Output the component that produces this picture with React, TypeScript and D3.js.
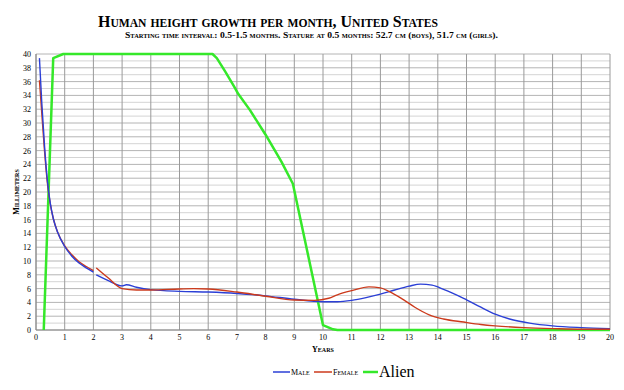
import * as d3 from 'd3';

type Pt = [number, number];

// years -> millimeters per month
const maleInfant: Pt[] = [
  [0.12, 39.4], [0.2, 33], [0.3, 26.5], [0.4, 21.5], [0.5, 18.3], [0.6, 16.2],
  [0.75, 14.2], [1.0, 12.1], [1.25, 10.7], [1.5, 9.7], [1.75, 9.0], [2.0, 8.4],
];
const femaleInfant: Pt[] = [
  [0.12, 36.2], [0.2, 31.5], [0.3, 25.8], [0.4, 21.2], [0.5, 18.2], [0.6, 16.2],
  [0.75, 14.2], [1.0, 12.2], [1.25, 10.9], [1.5, 9.9], [1.75, 9.2], [2.0, 8.6],
];
const maleChild: Pt[] = [
  [2.1, 8.0], [2.5, 7.2], [3.0, 6.4], [3.15, 6.55], [3.5, 6.2], [4.0, 5.85],
  [5.0, 5.6], [6.0, 5.5], [7.0, 5.3], [8.0, 4.95], [9.0, 4.45], [10.0, 4.1],
  [10.5, 4.1], [11.0, 4.3], [11.5, 4.7], [12.0, 5.2], [12.5, 5.8], [13.0, 6.35],
  [13.4, 6.65], [13.8, 6.5], [14.2, 5.9], [14.9, 4.6], [15.5, 3.3], [16.0, 2.3],
  [16.5, 1.6], [17.2, 1.0], [18.0, 0.6], [19.0, 0.35], [20.0, 0.2],
];
const femaleChild: Pt[] = [
  [2.1, 9.0], [2.5, 7.6], [3.0, 6.0], [3.5, 5.8], [4.0, 5.8], [5.0, 5.95],
  [5.5, 6.0], [6.0, 5.95], [7.0, 5.5], [8.0, 4.9], [9.0, 4.35], [9.7, 4.3],
  [10.2, 4.6], [10.5, 5.1], [11.0, 5.7], [11.6, 6.25], [12.0, 6.1], [12.3, 5.6],
  [12.8, 4.4], [13.2, 3.3], [13.7, 2.2], [14.2, 1.6], [14.9, 1.15], [15.5, 0.8],
  [16.0, 0.6], [17.0, 0.35], [18.0, 0.2], [19.0, 0.1], [20.0, 0.1],
];
const alien: Pt[] = [
  [0.27, 0], [0.6, 39.4], [0.95, 40], [6.15, 40], [6.3, 39.4], [6.6, 37.4],
  [6.9, 35.3], [7.05, 34.2], [7.45, 31.9], [8.0, 28.3], [8.55, 24.4],
  [8.95, 21.2], [10.0, 0.7], [10.35, 0.1], [10.5, 0], [20, 0],
];

const xTicks = d3.range(0, 21, 1);
const yTicks = d3.range(0, 41, 2);
const yGrid = d3.range(0, 41, 1);

const width = 624;
const height = 390;
const margins = { top: 54, right: 14, bottom: 60, left: 36 };

const serif = "'Liberation Serif', 'DejaVu Serif', serif";
const blue = '#2b3fd6';
const red = '#cc3a1c';
const green = '#35e82a';

const App = () => {
  const x = d3.scaleLinear().domain([0, 20]).range([margins.left, width - margins.right]);
  const y = d3.scaleLinear().domain([0, 40]).range([height - margins.bottom, margins.top]);

  const smooth = d3.line<Pt>().x(d => x(d[0])).y(d => y(d[1])).curve(d3.curveMonotoneX);
  const straight = d3.line<Pt>().x(d => x(d[0])).y(d => y(d[1]));

  return (
    <svg width={width} height={height} viewBox={`0 0 ${width} ${height}`}
      style={{ position: 'absolute', left: 0, top: 0, background: '#fff' }}>
      <text x={98} y={27} fontFamily={serif} fontWeight="bold" fontSize={16.5}
        textLength={340} lengthAdjust="spacingAndGlyphs"
        style={{ fontVariant: 'small-caps' }}>
        Human height growth per month, United States
      </text>
      <text x={125} y={38} fontFamily={serif} fontWeight="bold" fontSize={9}
        textLength={373} lengthAdjust="spacingAndGlyphs"
        style={{ fontVariant: 'small-caps' }}>
        Starting time interval: 0.5-1.5 months. Stature at 0.5 months: 52.7 cm (boys), 51.7 cm (girls).
      </text>

      {yGrid.map(v => (
        <line key={`h${v}`} x1={x(0)} x2={x(20)} y1={y(v)} y2={y(v)}
          stroke={v % 2 === 0 ? '#b4b4b4' : '#d4d4d4'} strokeWidth={1} />
      ))}
      {xTicks.map(v => (
        <line key={`v${v}`} x1={x(v)} x2={x(v)} y1={y(0)} y2={y(40)}
          stroke="#9a9a9a" strokeWidth={1} />
      ))}
      <line x1={x(0)} x2={x(0)} y1={y(0)} y2={y(40)} stroke="#888" />
      <line x1={x(0)} x2={x(20)} y1={y(0)} y2={y(0)} stroke="#888" />

      {yTicks.map(v => (
        <text key={`yt${v}`} x={x(0) - 5} y={y(v) + 3} textAnchor="end"
          fontFamily={serif} fontSize={8}>{v}</text>
      ))}
      {xTicks.map(v => (
        <text key={`xt${v}`} x={x(v)} y={y(0) + 10} textAnchor="middle"
          fontFamily={serif} fontSize={8}>{v}</text>
      ))}

      <text x={323} y={352} textAnchor="middle" fontFamily={serif} fontWeight="bold"
        fontSize={8} style={{ fontVariant: 'small-caps' }}>Years</text>
      <text transform={`translate(19, ${(y(0) + y(40)) / 2}) rotate(-90)`} textAnchor="middle"
        fontFamily={serif} fontWeight="bold" fontSize={8} style={{ fontVariant: 'small-caps' }}>
        Millimeters
      </text>

      <path d={straight(alien) || ''} fill="none" stroke={green} strokeWidth={2.5}
        strokeLinejoin="round" />
      <path d={smooth(femaleInfant) || ''} fill="none" stroke={red} strokeWidth={1.4} />
      <path d={smooth(maleInfant) || ''} fill="none" stroke={blue} strokeWidth={1.4} />
      <path d={smooth(maleChild) || ''} fill="none" stroke={blue} strokeWidth={1.4} />
      <path d={smooth(femaleChild) || ''} fill="none" stroke={red} strokeWidth={1.4} />

      <g fontFamily={serif}>
        <line x1={273} x2={290} y1={372} y2={372} stroke={blue} strokeWidth={1.5} />
        <text x={291} y={375} fontSize={8} style={{ fontVariant: 'small-caps' }}>Male</text>
        <line x1={314} x2={332} y1={372} y2={372} stroke={red} strokeWidth={1.5} />
        <text x={333} y={375} fontSize={8} style={{ fontVariant: 'small-caps' }}>Female</text>
        <line x1={363} x2={378} y1={372} y2={372} stroke={green} strokeWidth={2.5} />
        <text x={379} y={377} fontSize={16}>Alien</text>
      </g>
    </svg>
  );
};

export default App;
